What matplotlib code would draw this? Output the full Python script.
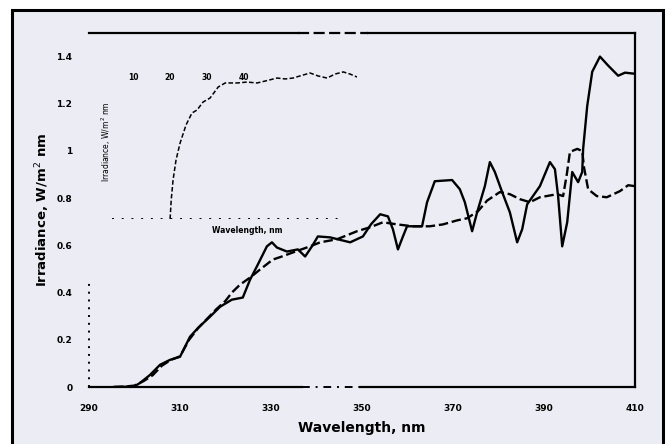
import matplotlib
matplotlib.use("Agg")
import matplotlib.pyplot as plt
from matplotlib.patches import Rectangle

# Measured spectrum (solid) and model spectrum (dashed), wavelength in nm
measured_wl = [295.5, 298, 300.1, 301.2, 303.4, 305.6, 307.8, 310.0, 312.2, 314.0,
               316.6, 318.8, 321.4, 323.8, 325.4, 326.9, 329.1, 330.2, 331.3, 333.5,
               335.9, 337.5, 339.0, 340.3, 343.0, 347.4, 350.2, 352.0, 354.0, 355.7,
               356.8, 357.9, 359.0, 359.9, 363.2, 364.3, 366.0, 369.8, 371.5, 372.6,
               374.2, 375.3, 377.0, 378.1, 379.2, 380.8, 382.5, 384.1, 385.2, 386.3,
               389.1, 391.3, 392.4, 393.1, 394.0, 395.1, 396.2, 397.5, 398.4, 398.6,
               399.5, 400.6, 402.3, 404.1, 406.3, 407.8, 409.6, 410]
measured_irr = [0, 0.001, 0.004, 0.017, 0.051, 0.094, 0.115, 0.128, 0.213, 0.251,
                0.298, 0.340, 0.370, 0.379, 0.455, 0.511, 0.596, 0.613, 0.591, 0.574,
                0.583, 0.553, 0.596, 0.638, 0.634, 0.613, 0.638, 0.69, 0.732, 0.723,
                0.668, 0.583, 0.638, 0.681, 0.681, 0.783, 0.872, 0.877, 0.838, 0.783,
                0.660, 0.740, 0.851, 0.953, 0.911, 0.826, 0.740, 0.613, 0.668, 0.774,
                0.851, 0.953, 0.923, 0.809, 0.596, 0.698, 0.911, 0.868, 0.911, 1.009,
                1.191, 1.336, 1.400, 1.362, 1.319, 1.332, 1.328, 1.328]

model_wl = [295.5, 298, 300, 302, 304, 306, 308, 310, 312, 314,
            316, 318, 320, 321.4, 323.2, 325.5, 327.6, 330.4, 332.4, 335.5,
            338.6, 340.8, 344.5, 348.9, 351.8, 354.6, 357.7, 361.2, 364.9, 367.8,
            370.9, 373.1, 375.5, 377.5, 380.3, 382.5, 384.7, 386.9, 389.1, 392.9,
            394.2, 395.0, 395.7, 397.3, 398.4, 398.8, 399.7, 401.6, 403.8, 406.7,
            408.5, 410]
model_irr = [0, 0.002, 0.006, 0.025, 0.05, 0.09, 0.115, 0.13, 0.2, 0.25,
             0.29, 0.33, 0.365, 0.40, 0.434, 0.465, 0.498, 0.540, 0.553, 0.575,
             0.596, 0.613, 0.626, 0.660, 0.677, 0.698, 0.689, 0.681, 0.681, 0.689,
             0.706, 0.715, 0.745, 0.790, 0.826, 0.817, 0.796, 0.783, 0.804, 0.817,
             0.809, 0.90, 0.996, 1.009, 1.0, 0.93, 0.838, 0.809, 0.804, 0.830,
             0.855, 0.851]

x_ticks = [290, 310, 330, 350, 370, 390, 410]
x_tick_labels = ["290", "310", "330", "350", "370", "390", "410"]
y_ticks = [0, 0.2, 0.4, 0.6, 0.8, 1.0, 1.2, 1.4]
y_tick_labels = ["0", "0.2", "0.4", "0.6", "0.8", "1", "1.2", "1.4"]

# Small inset curve (relative units)
inset_x = [20.0, 20.3, 20.8, 21.6, 22.7, 24.3, 25.9, 27.3, 28.9, 30.8, 33.0, 34.9,
           38.1, 40.8, 43.5, 45.7, 48.9, 51.1, 53.2, 55.1, 57.8, 60.0, 62.4, 64.6,
           66.8, 68.6, 70.5]
inset_y = [0, 0.128, 0.262, 0.396, 0.510, 0.631, 0.711, 0.732, 0.785, 0.812, 0.886,
           0.913, 0.913, 0.919, 0.913, 0.926, 0.946, 0.940, 0.946, 0.960, 0.980,
           0.960, 0.946, 0.973, 0.987, 0.973, 0.953]
inset_ticks = [10, 20, 30, 40]
inset_tick_labels = ["10", "20", "30", "40"]

BG = "#ECECF4"
W, H = 670, 444

fig = plt.figure(figsize=(6.7, 4.44), dpi=100)
fig.patch.set_facecolor("white")
frame = Rectangle((12 / W, -0.2), (663 - 12) / W, 1.2 - 10 / H,
                  transform=fig.transFigure, facecolor=BG,
                  edgecolor="black", linewidth=2.2, zorder=-10)
fig.add_artist(frame)

# Main axes
ax = fig.add_axes([89 / W, 1 - 387 / H, (635 - 89) / W, (387 - 33) / H])
ax.patch.set_visible(False)
ax.set_xlim(290, 410)
ax.set_ylim(0, 1.5)
for side in ("left", "top", "bottom"):
    ax.spines[side].set_visible(False)
ax.spines["right"].set_linewidth(1.6)

# frame lines
ax.axhline(1.5, 0, 0.383, color="black", lw=1.6, clip_on=False)
ax.axhline(1.5, 0.383, 0.511, color="black", lw=1.6, ls=(0, (5, 2)), clip_on=False)
ax.axhline(1.5, 0.511, 1.0, color="black", lw=1.6, clip_on=False)
ax.axhline(0, 0, 0.39, color="black", lw=1.6, clip_on=False)
ax.axhline(0, 0.39, 0.496, color="black", lw=1.4, ls=(0, (4, 3, 1, 3)), clip_on=False)
ax.axhline(0, 0.496, 1.0, color="black", lw=1.6, clip_on=False)
ax.axvline(290, 0, 0.297, color="black", lw=1.4, ls=(0, (1, 3)), clip_on=False)

ax.plot(measured_wl, measured_irr, color="black", lw=1.7, solid_joinstyle="round")
ax.plot(model_wl, model_irr, color="black", lw=1.7, ls=(0, (4, 1.6)))

ax.set_xticks(x_ticks)
ax.set_xticklabels(x_tick_labels)
ax.set_yticks(y_ticks)
ax.set_yticklabels(y_tick_labels)
ax.tick_params(axis="both", length=0, labelsize=6.5)
ax.tick_params(axis="x", pad=12)
ax.tick_params(axis="y", pad=12)
for lab in ax.get_xticklabels() + ax.get_yticklabels():
    lab.set_fontweight("bold")
ax.set_xticks([310, 390], minor=True)
ax.tick_params(axis="x", which="minor", length=3, width=1.2, direction="out")

ax.set_xlabel("Wavelength, nm", fontsize=10, fontweight="bold", labelpad=6)
ax.set_ylabel("Irradiance, W/m$^{2}$ nm", fontsize=9.5, fontweight="bold", labelpad=3)

# Inset
axi = fig.add_axes([112 / W, 1 - 219 / H, (357 - 112) / W, (219 - 70) / H])
axi.patch.set_visible(False)
axi.set_xlim(4.3, 70.5)
axi.set_ylim(0, 1)
axi.set_axis_off()
axi.axhline(0, 0, 0.95, color="black", lw=1.4, ls=(0, (1, 4)))
axi.plot(inset_x, inset_y, color="black", lw=1.1, ls=(0, (3, 1.5)))
for t, lab in zip(inset_ticks, inset_tick_labels):
    axi.text(t, 0.953, lab, fontsize=5.5, fontweight="bold", ha="center", va="center")
axi.text(0.55, -0.075, "Wavelength, nm", transform=axi.transAxes, fontsize=5.5,
         fontweight="bold", ha="center", va="center")
axi.text(-0.025, 0.52, "Irradiance, W/m$^{2}$ nm", transform=axi.transAxes,
         fontsize=5.5, rotation=90, ha="center", va="center")

fig.savefig("out.png", dpi=100, facecolor=fig.get_facecolor())
